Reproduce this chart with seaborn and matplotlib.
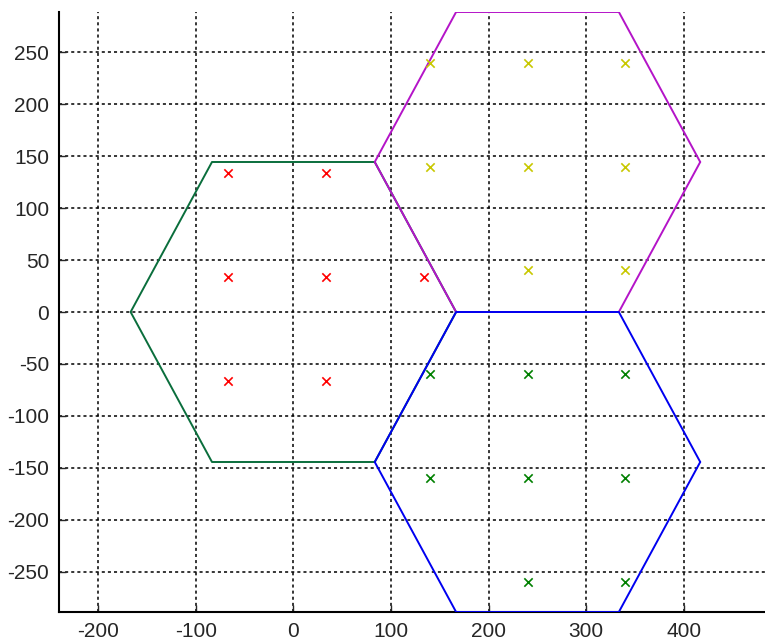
import numpy as np
import pandas as pd
import seaborn as sns
from matplotlib import pyplot as plt

# hexagonal cells: radius and centres
R = 500 / 3
cell_x = [0, 250, 250]
cell_y = [0, R * np.sqrt(3) / 2, -R * np.sqrt(3) / 2]
cell_colors = ["#0a6e3c", "#b414c8", "#0000f0"]

# user positions per cell
red_x = [-66.7, 33.3, -66.7, 33.3, 133.3, -66.7, 33.3]
red_y = [133.3, 133.3, 33.3, 33.3, 33.3, -66.7, -66.7]
yellow_x = [140, 240, 340, 140, 240, 340, 240, 340]
yellow_y = [240, 240, 240, 140, 140, 140, 40, 40]
green_x = [140, 240, 340, 140, 240, 340, 240, 340]
green_y = [-60, -60, -60, -160, -160, -160, -260, -260]

sns.set_style("white")
plt.rcParams["font.family"] = ["Liberation Sans", "DejaVu Sans"]
plt.rcParams["axes.unicode_minus"] = False

fig = plt.figure(figsize=(7.65, 6.44), dpi=100)
ax = fig.add_axes([59 / 765, 32 / 644, 706 / 765, 600 / 644])

angles = np.radians(np.arange(0, 361, 60))
for cx, cy, col in zip(cell_x, cell_y, cell_colors):
    hexa = pd.DataFrame({"x": cx + R * np.cos(angles),
                         "y": cy + R * np.sin(angles)})
    sns.lineplot(data=hexa, x="x", y="y", sort=False, estimator=None,
                 errorbar=None, color=col, linewidth=1.4, ax=ax, zorder=3)

for xs, ys, col in [(red_x, red_y, "#ff0000"),
                    (yellow_x, yellow_y, "#c8c800"),
                    (green_x, green_y, "#008000")]:
    sns.scatterplot(x=xs, y=ys, marker="x", color=col, s=36,
                    linewidth=1.2, ax=ax, zorder=4)

ax.set_xlim(-240, 483)
ax.set_ylim(-R * np.sqrt(3), R * np.sqrt(3))
ax.set_xticks(np.arange(-200, 401, 100))
ax.set_yticks(np.arange(-250, 251, 50))
ax.grid(True, color="black", linestyle=(0, (2, 2)), linewidth=1.1)
ax.set_axisbelow(True)
ax.set_xlabel("")
ax.set_ylabel("")
ax.tick_params(direction="in", length=5, width=1, labelsize=15,
               left=True, bottom=True, pad=7)
for side in ["top", "right"]:
    ax.spines[side].set_visible(False)
for side in ["left", "bottom"]:
    ax.spines[side].set_color("black")
    ax.spines[side].set_linewidth(1.5)

plt.savefig("out.png", dpi=100)
